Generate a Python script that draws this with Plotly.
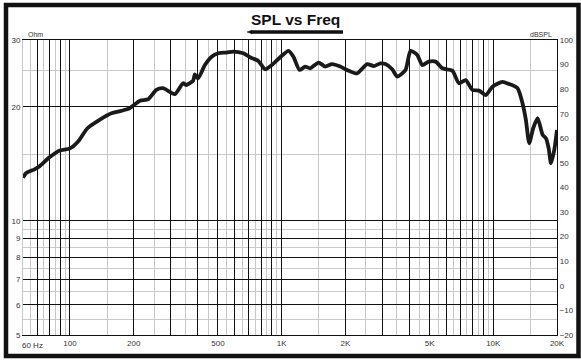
import plotly.graph_objects as go
import math

# ---- data ----
freq_hz = [60, 62, 68, 72, 80, 89, 100, 109, 121, 138, 157, 175, 191, 214, 234, 256, 275,
           313, 342, 355, 382, 389, 403, 434, 467, 502, 550, 591, 659, 709, 776, 835, 898,
           984, 1077, 1137, 1215, 1292, 1365, 1494, 1608, 1729, 1894, 2037, 2272, 2534,
           2724, 2930, 3094, 3330, 3516, 3849, 4064, 4374, 4619, 4962, 5340, 5744, 6408,
           6884, 7407, 7969, 8566, 9215, 9913, 11056, 11880, 13021, 13752, 14256, 14781,
           15440, 16200, 17110, 17740, 18270, 18730, 19420, 20000]
spl_db = [44.0, 45.8, 47.4, 48.7, 52.3, 55.0, 55.9, 58.6, 64.1, 67.5, 70.2, 71.2, 72.2,
          75.3, 75.9, 79.7, 80.4, 78.0, 82.4, 81.7, 83.5, 86.0, 84.4, 89.8, 93.2, 94.6,
          94.9, 95.3, 94.6, 93.0, 91.5, 88.1, 89.8, 93.0, 95.6, 93.2, 87.8, 89.2, 88.5,
          90.8, 89.2, 90.2, 89.2, 87.8, 86.4, 90.2, 89.4, 90.5, 90.2, 88.1, 85.1, 87.8,
          95.6, 93.9, 89.8, 91.2, 91.2, 88.5, 87.5, 82.4, 83.7, 79.7, 79.4, 77.6, 81.0,
          83.0, 82.1, 80.4, 74.2, 67.5, 58.0, 64.1, 68.2, 61.4, 60.0, 55.9, 49.8, 55.3,
          63.4, 68.6]

x_major = [60, 70, 80, 90, 100, 200, 300, 400, 500, 600, 700, 800, 900, 1000,
           2000, 3000, 4000, 5000, 6000, 7000, 8000, 9000, 10000, 20000]
x_labels = {100: "100", 200: "200", 500: "500", 1000: "1K", 2000: "2K",
            5000: "5K", 10000: "10K", 20000: "20K"}
x_first_label = "60 Hz"
x_minor = [65, 75, 85, 95, 150, 250, 350, 450, 550, 650, 750, 850, 950, 1500, 2500,
           3500, 4500, 5500, 6500, 7500, 8500, 9500, 15000]

ohm_major = [5, 6, 7, 8, 9, 10, 20, 30]
ohm_minor = [5.5, 6.5, 7.5, 8.5, 9.5, 15, 25]
db_ticks = list(range(-20, 101, 10))

FONT = "Liberation Sans"
TICKCOL = "#333333"

fig = go.Figure()
fig.add_trace(go.Scatter(x=[1000], y=[10], yaxis="y", mode="markers",
                         marker=dict(opacity=0), hoverinfo="skip", showlegend=False))
fig.add_trace(go.Scatter(x=freq_hz, y=spl_db, yaxis="y2", mode="lines",
                         line=dict(color="#1a1a1a", width=3.8, shape="spline", smoothing=0.6),
                         showlegend=False))

fig.update_layout(
    width=581, height=361,
    margin=dict(l=23, r=24, t=40, b=26),
    paper_bgcolor="white", plot_bgcolor="white",
    font=dict(family=FONT, color=TICKCOL, size=8),
    xaxis=dict(type="log", range=[math.log10(60), math.log10(20000)],
               tickmode="array", tickvals=x_major,
               ticktext=[x_labels.get(v, "") for v in x_major],
               showgrid=True, gridcolor="#111111", gridwidth=1.2,
               minor=dict(tickvals=x_minor, showgrid=True, gridcolor="#c8c8c8", gridwidth=1),
               showline=True, linecolor="#111111", linewidth=1.2, mirror=True,
               ticks="", tickfont=dict(size=8, color=TICKCOL), zeroline=False,
               automargin=False),
    yaxis=dict(type="log", range=[math.log10(5), math.log10(30)],
               tickmode="array", tickvals=ohm_major, ticktext=[str(v) for v in ohm_major],
               showgrid=True, gridcolor="#111111", gridwidth=1.2,
               minor=dict(tickvals=ohm_minor, showgrid=True, gridcolor="#c8c8c8", gridwidth=1),
               showline=True, linecolor="#c8c8c8", linewidth=1,
               ticks="", tickfont=dict(size=8, color=TICKCOL), zeroline=False,
               automargin=False),
    yaxis2=dict(range=[-20, 100], overlaying="y", side="right",
                tickmode="array", tickvals=db_ticks, showgrid=False, zeroline=False,
                showline=True, linecolor="#111111", linewidth=1.2,
                ticks="", tickfont=dict(size=8, color=TICKCOL), automargin=False),
)

def px(xp):
    return (xp - 23) / 534

def py(yp):
    return (335 - yp) / 295

annotations = [
    dict(text=x_first_label, x=px(20), y=-0.015, xref="paper", yref="paper",
         xanchor="left", yanchor="top", showarrow=False, font=dict(size=8, color=TICKCOL)),
    dict(text="Ohm", x=px(26), y=1.0, xref="paper", yref="paper",
         xanchor="left", yanchor="bottom", showarrow=False, font=dict(size=7, color=TICKCOL)),
    dict(text="dBSPL", x=px(554), y=1.0, xref="paper", yref="paper",
         xanchor="right", yanchor="bottom", showarrow=False, font=dict(size=7, color=TICKCOL)),
    dict(text="<b>SPL vs Freq</b>", x=px(295.5), y=py(19.5),
         xref="paper", yref="paper", xanchor="center", yanchor="middle", showarrow=False,
         font=dict(size=15.5, color="#111111", family=FONT)),
]
fig.update_layout(annotations=annotations)

shapes = [
    # outer frame
    dict(type="rect", xref="paper", yref="paper", x0=px(6), x1=px(578.5), y0=py(356), y1=py(5),
         line=dict(color="#111111", width=4.5)),
    # title underline bar
    dict(type="line", xref="paper", yref="paper", x0=px(251), x1=px(343), y0=py(32), y1=py(32),
         line=dict(color="#111111", width=3.5)),
    dict(type="path", xref="paper", yref="paper",
         path=f"M {px(247)} {py(32)} L {px(252)} {py(30.2)} L {px(252)} {py(33.8)} Z",
         fillcolor="#111111", line=dict(color="#111111", width=0.5)),
]
fig.update_layout(shapes=shapes)

fig.write_html("out.html", config={"displayModeBar": False},
               post_script="document.body.style.margin='0px';document.body.style.overflow='hidden';")
